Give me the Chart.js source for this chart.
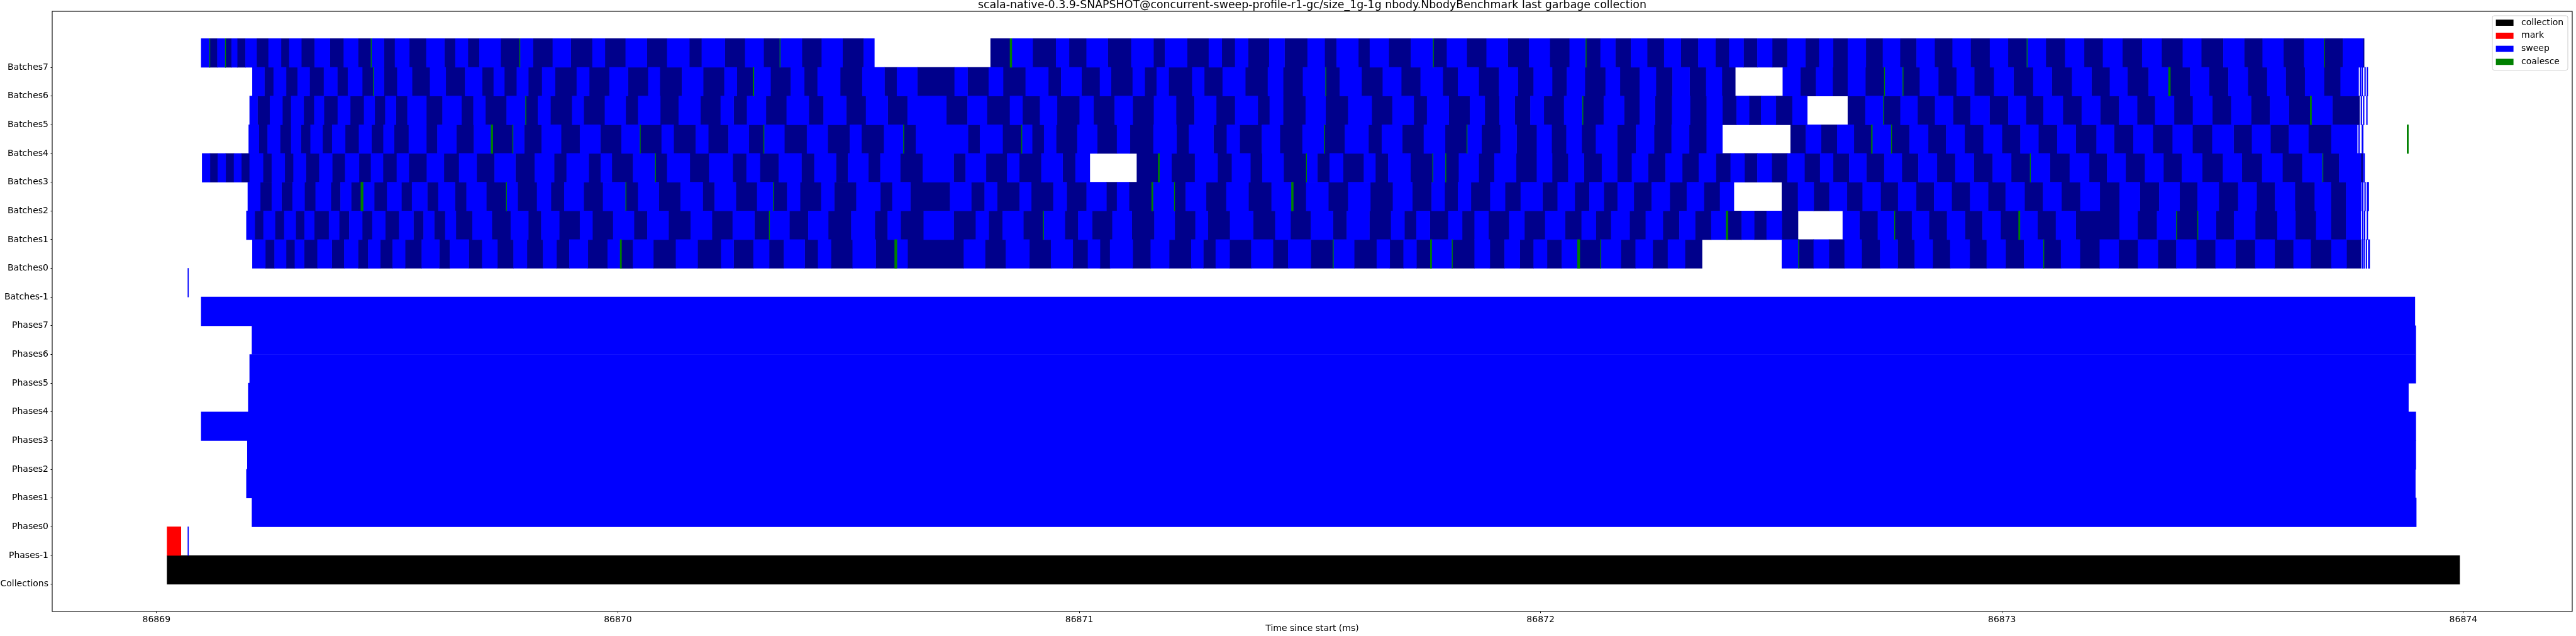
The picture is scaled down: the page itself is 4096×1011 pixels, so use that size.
<!DOCTYPE html>
<html>
<head>
<meta charset="utf-8">
<script src="https://cdn.jsdelivr.net/npm/chart.js@4.4.1/dist/chart.umd.min.js"></script>
<style>
html,body{margin:0;padding:0;background:#fff;overflow:hidden}
#wrap{width:4096px;height:1011px;position:relative}
</style>
</head>
<body>
<div id="wrap"><canvas id="c" width="4096" height="1011"></canvas></div>
<script>
// ---------------- data ----------------
const titleText = "scala-native-0.3.9-SNAPSHOT@concurrent-sweep-profile-r1-gc/size_1g-1g nbody.NbodyBenchmark last garbage collection";
const xAxisTitle = "Time since start (ms)";
const rowLabels = ["Collections","Phases-1","Phases0","Phases1","Phases2","Phases3","Phases4","Phases5","Phases6","Phases7",
  "Batches-1","Batches0","Batches1","Batches2","Batches3","Batches4","Batches5","Batches6","Batches7"];
const xTickValues = [86869, 86870, 86871, 86872, 86873, 86874];
const xRange = [86868.774, 86874.236];
const yRange = [-0.95, 19.95];
const legendLabels = ["collection", "mark", "sweep", "coalesce"];

const collectionSpan = [86869.023, 86873.992];
const markSpan = [86869.023, 86869.053];
const sweepPhasesMinus1 = [86869.068, 86869.0695];
const sweepBatchesMinus1 = [86869.068, 86869.0695];
// Phases0 .. Phases7
const phaseStarts = [86869.207, 86869.195, 86869.197, 86869.097, 86869.199, 86869.202, 86869.207, 86869.097];
const phaseEnds   = [86873.898, 86873.896, 86873.897, 86873.897, 86873.881, 86873.897, 86873.897, 86873.895];

// Batch rows: runs of consecutive batch boundaries (colours alternate sweep / dark sweep)
const batches0 = [
 [86869.208,86869.236,86869.256,86869.281,86869.300,86869.320,86869.349,86869.380,86869.407,86869.437,86869.459,86869.485,86869.512,86869.539,86869.575,86869.613,86869.636,86869.677,86869.706,86869.739,86869.774,86869.803,86869.838,86869.867,86869.895,86869.935,86869.978,86870.007,86870.033,86870.077,86870.126,86870.173,86870.224,86870.251,86870.294,86870.328,86870.360,86870.405,86870.434,86870.462,86870.509,86870.559,86870.602,86870.628,86870.750,86870.796,86870.841,86870.892,86870.939,86870.986,86871.019,86871.045,86871.067,86871.116,86871.155,86871.195,86871.243,86871.269,86871.296,86871.326,86871.373,86871.420,86871.453,86871.502,86871.550,86871.596,86871.645,86871.673,86871.703,86871.731,86871.763,86871.808,86871.857,86871.890,86871.922,86871.955,86871.985,86872.014,86872.046,86872.082,86872.130,86872.174,86872.206,86872.243,86872.276,86872.313,86872.350],
 [86872.523,86872.559,86872.592,86872.625,86872.659,86872.696,86872.736,86872.774,86872.811,86872.850,86872.888,86872.930,86872.967,86873.008,86873.048,86873.090,86873.128,86873.169,86873.212,86873.253,86873.295,86873.338,86873.378,86873.421,86873.463,86873.506,86873.549,86873.591,86873.632,86873.669,86873.714,86873.747,86873.778]
];
const batches1 = [
 [86869.195,86869.213,86869.232,86869.257,86869.277,86869.302,86869.321,86869.342,86869.374,86869.396,86869.418,86869.446,86869.468,86869.496,86869.526,86869.557,86869.579,86869.602,86869.626,86869.649,86869.685,86869.727,86869.768,86869.806,86869.834,86869.873,86869.918,86869.945,86869.990,86870.035,86870.064,86870.110,86870.158,86870.204,86870.249,86870.296,86870.328,86870.372,86870.413,86870.456,86870.506,86870.557,86870.585,86870.613,86870.663,86870.728,86870.776,86870.804,86870.834,86870.879,86870.922,86870.969,86870.998,86871.028,86871.072,86871.114,86871.163,86871.207,86871.252,86871.279,86871.327,86871.377,86871.425,86871.458,86871.502,86871.550,86871.580,86871.629,86871.676,86871.705,86871.731,86871.760,86871.800,86871.830,86871.857,86871.887,86871.932,86871.965,86872.010,86872.053,86872.089,86872.120,86872.153,86872.193,86872.228,86872.265,86872.301,86872.335,86872.370,86872.404,86872.436,86872.463,86872.490,86872.523,86872.558],
 [86872.655,86872.691,86872.731,86872.767,86872.805,86872.842,86872.881,86872.920,86872.958,86872.997,86873.037,86873.077,86873.117,86873.160,86873.255,86873.294,86873.336,86873.378,86873.424,86873.464,86873.503,86873.549,86873.597,86873.636,86873.681,86873.713,86873.746,86873.778]
];
const batches2 = [
 [86869.198,86869.225,86869.250,86869.271,86869.295,86869.321,86869.345,86869.378,86869.399,86869.422,86869.446,86869.472,86869.500,86869.531,86869.554,86869.587,86869.611,86869.647,86869.672,86869.715,86869.758,86869.783,86869.825,86869.855,86869.884,86869.926,86869.968,86870.017,86870.044,86870.089,86870.136,86870.184,86870.210,86870.256,86870.302,86870.337,86870.367,86870.395,86870.441,86870.469,86870.517,86870.569,86870.595,86870.634,86870.720,86870.766,86870.795,86870.822,86870.871,86870.896,86870.944,86870.973,86871.016,86871.059,86871.082,86871.108,86871.159,86871.206,86871.231,86871.275,86871.319,86871.367,86871.417,86871.462,86871.492,86871.540,86871.583,86871.631,86871.680,86871.722,86871.764,86871.792,86871.821,86871.849,86871.891,86871.923,86871.957,86872.004,86872.037,86872.074,86872.106,86872.137,86872.167,86872.202,86872.241,86872.280,86872.317,86872.354,86872.389,86872.419],
 [86872.523,86872.558,86872.592,86872.626,86872.664,86872.698,86872.737,86872.775,86872.814,86872.853,86872.891,86872.931,86872.970,86873.008,86873.049,86873.089,86873.129,86873.170,86873.212,86873.255,86873.299,86873.341,86873.385,86873.424,86873.470,86873.512,86873.552,86873.592,86873.635,86873.678,86873.713,86873.746,86873.779]
];
const batches3 = [
 [86869.099,86869.116,86869.133,86869.150,86869.168,86869.184,86869.202,86869.231,86869.250,86869.278,86869.297,86869.324,86869.353,86869.381,86869.409,86869.439,86869.465,86869.491,86869.521,86869.547,86869.586,86869.623,86869.656,86869.694,86869.733,86869.778,86869.820,86869.862,86869.889,86869.937,86869.963,86869.987,86870.033,86870.081,86870.107,86870.156,86870.198,86870.249,86870.279,86870.308,86870.349,86870.398,86870.426,86870.473,86870.499,86870.543,86870.569,86870.612,86870.661,86870.728,86870.754,86870.798,86870.844,86870.870,86870.918,86870.964,86870.992,86871.023],
 [86871.125,86871.173,86871.200,86871.251,86871.300,86871.331,86871.371,86871.397,86871.443,86871.493,86871.516,86871.543,86871.572,86871.617,86871.642,86871.670,86871.718,86871.766,86871.794,86871.823,86871.866,86871.900,86871.947,86871.992,86872.025,86872.060,86872.094,86872.133,86872.166,86872.198,86872.233,86872.271,86872.307,86872.343,86872.380,86872.412,86872.442,86872.470,86872.501,86872.535,86872.572,86872.606,86872.634,86872.669,86872.706,86872.745,86872.783,86872.819,86872.859,86872.899,86872.939,86872.980,86873.020,86873.061,86873.104,86873.147,86873.189,86873.228,86873.268,86873.310,86873.350,86873.390,86873.434,86873.479,86873.520,86873.564,86873.608,86873.651,86873.695,86873.731,86873.778,86873.782]
];
const batches4 = [
 [86869.200,86869.222,86869.241,86869.268,86869.292,86869.313,86869.334,86869.360,86869.381,86869.409,86869.439,86869.466,86869.492,86869.515,86869.547,86869.585,86869.609,86869.650,86869.688,86869.727,86869.772,86869.797,86869.835,86869.877,86869.918,86869.962,86870.008,86870.048,86870.095,86870.121,86870.169,86870.196,86870.240,86870.284,86870.316,86870.361,86870.410,86870.455,86870.503,86870.528,86870.577,86870.619,86870.646,86870.759,86870.785,86870.834,86870.875,86870.898,86870.924,86870.950,86870.996,86871.039,86871.082,86871.110,86871.161,86871.211,86871.238,86871.291,86871.320,86871.348,86871.396,86871.435,86871.484,86871.531,86871.576,86871.627,86871.656,86871.700,86871.747,86871.793,86871.840,86871.872,86871.913,86871.948,86871.992,86872.024,86872.056,86872.089,86872.120,86872.166,86872.207,86872.246,86872.284,86872.322,86872.360,86872.394],
 [86872.542,86872.575,86872.608,86872.643,86872.679,86872.719,86872.760,86872.800,86872.840,86872.879,86872.919,86872.960,86873.000,86873.040,86873.079,86873.120,86873.160,86873.205,86873.243,86873.285,86873.327,86873.370,86873.413,86873.456,86873.502,86873.542,86873.582,86873.622,86873.664,86873.714,86873.770]
];
const batches5 = [
 [86869.202,86869.219,86869.246,86869.273,86869.292,86869.319,86869.342,86869.363,86869.393,86869.420,86869.450,86869.473,86869.496,86869.519,86869.544,86869.585,86869.620,86869.661,86869.687,86869.713,86869.759,86869.800,86869.827,86869.854,86869.901,86869.926,86869.972,86870.017,86870.044,86870.092,86870.132,86870.179,86870.223,86870.251,86870.280,86870.321,86870.366,86870.414,86870.446,86870.495,86870.538,86870.585,86870.628,86870.712,86870.758,86870.800,86870.850,86870.877,86870.915,86870.952,86871.001,86871.031,86871.077,86871.116,86871.162,86871.210,86871.250,86871.297,86871.338,86871.387,86871.413,86871.442,86871.491,86871.534,86871.583,86871.634,86871.679,86871.725,86871.754,86871.801,86871.847,86871.879,86871.911,86871.944,86871.978,86872.007,86872.051,86872.091,86872.137,86872.181,86872.215,86872.248,86872.285,86872.324,86872.360,86872.394,86872.425,86872.452,86872.478,86872.510,86872.546,86872.578],
 [86872.666,86872.704,86872.743,86872.780,86872.817,86872.855,86872.894,86872.932,86872.973,86873.014,86873.052,86873.090,86873.132,86873.173,86873.213,86873.254,86873.293,86873.332,86873.373,86873.414,86873.456,86873.497,86873.540,86873.581,86873.622,86873.670,86873.716,86873.775]
];
const batches6 = [
 [86869.208,86869.234,86869.254,86869.281,86869.306,86869.332,86869.363,86869.392,86869.415,86869.446,86869.470,86869.493,86869.522,86869.554,86869.593,86869.627,86869.669,86869.706,86869.731,86869.754,86869.781,86869.806,86869.836,86869.864,86869.911,86869.938,86869.982,86870.022,86870.066,86870.091,86870.139,86870.185,86870.231,86870.258,86870.294,86870.331,86870.375,86870.404,86870.433,86870.482,86870.530,86870.578,86870.605,86870.649,86870.730,86870.758,86870.804,86870.835,86870.884,86870.933,86870.961,86871.005,86871.045,86871.069,86871.116,86871.142,86871.168,86871.194,86871.245,86871.271,86871.311,86871.360,86871.409,86871.442,86871.485,86871.534,86871.565,86871.612,86871.658,86871.698,86871.740,86871.788,86871.821,86871.866,86871.910,86871.951,86871.985,86872.025,86872.057,86872.096,86872.141,86872.172,86872.215,86872.250,86872.286,86872.323,86872.359,86872.393,86872.422],
 [86872.525,86872.563,86872.597,86872.633,86872.666,86872.704,86872.745,86872.785,86872.822,86872.862,86872.902,86872.940,86872.983,86873.025,86873.068,86873.108,86873.152,86873.194,86873.234,86873.272,86873.318,86873.363,86873.408,86873.449,86873.491,86873.533,86873.575,86873.615,86873.657,86873.698,86873.734,86873.773]
];
const batches7 = [
 [86869.097,86869.115,86869.132,86869.149,86869.163,86869.175,86869.193,86869.217,86869.243,86869.270,86869.288,86869.314,86869.343,86869.376,86869.406,86869.437,86869.465,86869.493,86869.517,86869.548,86869.585,86869.624,86869.648,86869.675,86869.700,86869.746,86869.787,86869.816,86869.859,86869.898,86869.945,86869.972,86870.017,86870.063,86870.107,86870.155,86870.182,86870.232,86870.276,86870.316,86870.351,86870.399,86870.442,86870.487,86870.533,86870.556],
 [86870.808,86870.854,86870.899,86870.950,86870.978,86871.016,86871.062,86871.113,86871.161,86871.186,86871.234,86871.281,86871.309,86871.338,86871.366,86871.412,86871.445,86871.495,86871.532,86871.558,86871.605,86871.630,86871.671,86871.719,86871.767,86871.797,86871.840,86871.883,86871.929,86871.975,86872.020,86872.063,86872.098,86872.130,86872.162,86872.196,86872.231,86872.268,86872.304,86872.342,86872.379,86872.409,86872.440,86872.470,86872.502,86872.535,86872.574,86872.604,86872.634,86872.666,86872.705,86872.742,86872.779,86872.815,86872.854,86872.893,86872.932,86872.974,86873.013,86873.054,86873.095,86873.137,86873.178,86873.219,86873.261,86873.304,86873.346,86873.392,86873.432,86873.480,86873.525,86873.565,86873.610,86873.655,86873.698,86873.739,86873.783,86873.785]
];
// small trailing batches at the end of each row (Batches0 .. Batches7)
const batchTails0 = [[86873.780,86873.782],[86873.784,86873.786],[86873.789,86873.791],[86873.794,86873.797]];
const batchTails1 = [[86873.781,86873.783],[86873.785,86873.787],[86873.791,86873.793]];
const batchTails2 = [[86873.781,86873.783],[86873.786,86873.788],[86873.791,86873.795]];
const batchTails3 = [[86873.783,86873.786]];
const batchTails4 = [[86873.773,86873.775],[86873.780,86873.783]];
const batchTails5 = [[86873.778,86873.780],[86873.783,86873.785],[86873.790,86873.792]];
const batchTails6 = [[86873.776,86873.778],[86873.780,86873.782],[86873.786,86873.788],[86873.791,86873.793]];
const batchTails7 = [];

// coalesce marks: [row, start, end]
const coalesce = [
 ["Batches7",86870.850,86870.854],["Batches7",86869.115,86869.116],["Batches7",86869.149,86869.150],["Batches7",86869.465,86869.466],
 ["Batches7",86869.787,86869.788],["Batches7",86870.351,86870.352],["Batches7",86871.767,86871.768],["Batches7",86872.098,86872.099],
 ["Batches7",86873.054,86873.055],["Batches7",86873.698,86873.699],
 ["Batches6",86870.293,86870.295],["Batches6",86873.361,86873.365],["Batches6",86869.470,86869.471],["Batches6",86871.534,86871.535],
 ["Batches6",86872.745,86872.746],["Batches6",86872.785,86872.786],
 ["Batches5",86873.668,86873.671],["Batches5",86869.800,86869.801],["Batches5",86872.091,86872.092],["Batches5",86872.743,86872.744],
 ["Batches4",86869.725,86869.729],["Batches4",86872.717,86872.719],["Batches4",86873.878,86873.881],["Batches4",86869.772,86869.773],
 ["Batches4",86870.048,86870.049],["Batches4",86870.316,86870.317],["Batches4",86870.619,86870.620],["Batches4",86870.875,86870.876],
 ["Batches4",86871.531,86871.532],["Batches4",86871.840,86871.841],["Batches4",86872.760,86872.761],
 ["Batches3",86871.171,86871.174],["Batches3",86870.081,86870.082],["Batches3",86871.492,86871.493],["Batches3",86871.766,86871.767],
 ["Batches3",86871.794,86871.795],["Batches3",86873.061,86873.062],["Batches3",86873.695,86873.696],
 ["Batches2",86869.443,86869.448],["Batches2",86871.157,86871.160],["Batches2",86871.460,86871.464],["Batches2",86869.758,86869.759],
 ["Batches2",86870.017,86870.018],["Batches2",86870.337,86870.338],["Batches2",86871.206,86871.207],
 ["Batches1",86872.402,86872.406],["Batches1",86873.036,86873.039],["Batches1",86870.328,86870.329],["Batches1",86870.922,86870.923],
 ["Batches1",86872.767,86872.768],["Batches1",86873.378,86873.379],["Batches1",86873.424,86873.425],
 ["Batches0",86870.005,86870.008],["Batches0",86870.600,86870.605],["Batches0",86871.761,86871.764],["Batches0",86872.080,86872.085],
 ["Batches0",86871.550,86871.551],["Batches0",86871.808,86871.809],["Batches0",86872.130,86872.131],["Batches0",86872.559,86872.560],
 ["Batches0",86873.090,86873.091]
];

// ---------------- build bars ----------------
const FONT = "'DejaVu Sans', 'Noto Sans', sans-serif";
const rowY = name => rowLabels.indexOf(name) + 0.5;
const blackBars = [], redBars = [], blueBars = [], navyBars = [], greenBars = [];

blackBars.push({x: collectionSpan, y: rowY("Collections")});
redBars.push({x: markSpan, y: rowY("Phases-1")});
blueBars.push({x: sweepPhasesMinus1, y: rowY("Phases-1")});
blueBars.push({x: sweepBatchesMinus1, y: rowY("Batches-1")});
phaseStarts.forEach((s, i) => blueBars.push({x: [s, phaseEnds[i]], y: rowY("Phases" + i)}));

const batchRows = [batches0, batches1, batches2, batches3, batches4, batches5, batches6, batches7];
const tailRows = [batchTails0, batchTails1, batchTails2, batchTails3, batchTails4, batchTails5, batchTails6, batchTails7];
batchRows.forEach((runs, r) => {
  const y = rowY("Batches" + r);
  let k = 0;
  runs.forEach(run => {
    for (let i = 0; i < run.length - 1; i++) {
      (k % 2 === 0 ? blueBars : navyBars).push({x: [run[i], run[i + 1]], y});
      k++;
    }
  });
  tailRows[r].forEach(t => blueBars.push({x: t, y}));
});
coalesce.forEach(c => greenBars.push({x: [c[1], c[2]], y: rowY(c[0])}));

const barCommon = {grouped: false, categoryPercentage: 1, barPercentage: 1, borderWidth: 0, borderSkipped: false};

// ---------------- plugins ----------------
const framePlugin = {
  id: "frame",
  afterDatasetsDraw(chart) {
    const {ctx, chartArea: a} = chart;
    ctx.save();
    ctx.strokeStyle = "#000";
    ctx.lineWidth = 1.1;
    ctx.strokeRect(a.left, a.top, a.right - a.left, a.bottom - a.top);
    ctx.restore();
  }
};
const titlePlugin = {
  id: "mplTitle",
  afterDraw(chart) {
    const {ctx, chartArea: a} = chart;
    ctx.save();
    ctx.fillStyle = "#000";
    ctx.font = "17.4px " + FONT;
    ctx.textAlign = "center";
    ctx.textBaseline = "alphabetic";
    ctx.fillText(titleText, (a.left + a.right) / 2, a.top - 5);
    ctx.restore();
  }
};
const legendColors = ["#000000", "#ff0000", "#0000ff", "#008000"];
const legendPlugin = {
  id: "mplLegend",
  afterDraw(chart) {
    const {ctx, chartArea: a} = chart;
    const w = 120, h = 86.5;
    const x0 = a.right - 7 - w, y0 = a.top + 7;
    ctx.save();
    ctx.beginPath();
    if (ctx.roundRect) ctx.roundRect(x0, y0, w, h, 3); else ctx.rect(x0, y0, w, h);
    ctx.fillStyle = "rgba(255,255,255,0.8)";
    ctx.fill();
    ctx.strokeStyle = "#cccccc";
    ctx.lineWidth = 1;
    ctx.stroke();
    ctx.font = "14px " + FONT;
    ctx.textBaseline = "middle";
    ctx.textAlign = "left";
    legendLabels.forEach((lab, i) => {
      const cy = y0 + 11.1 + i * 20.75;
      ctx.fillStyle = legendColors[i];
      ctx.fillRect(x0 + 5.6, cy - 4.9, 28, 9.8);
      ctx.fillStyle = "#000";
      ctx.fillText(lab, x0 + 46, cy);
    });
    ctx.restore();
  }
};

// ---------------- chart ----------------
new Chart(document.getElementById("c"), {
  type: "bar",
  data: {
    datasets: [
      Object.assign({label: "coalesce", data: greenBars, backgroundColor: "#008000"}, barCommon),
      Object.assign({label: "mark", data: redBars, backgroundColor: "#ff0000"}, barCommon),
      Object.assign({label: "sweep", data: blueBars, backgroundColor: "#0000ff"}, barCommon),
      Object.assign({label: "sweep (alternate batch)", data: navyBars, backgroundColor: "#00008b"}, barCommon),
      Object.assign({label: "collection", data: blackBars, backgroundColor: "#000000"}, barCommon)
    ]
  },
  options: {
    indexAxis: "y",
    animation: false,
    responsive: false,
    devicePixelRatio: 1,
    layout: {padding: {top: 18, right: 6, bottom: 0, left: 0}},
    plugins: {legend: {display: false}, title: {display: false}, tooltip: {enabled: false}},
    scales: {
      x: {
        type: "linear", position: "bottom", offset: false,
        min: xRange[0], max: xRange[1],
        afterBuildTicks: s => { s.ticks = xTickValues.map(v => ({value: v})); },
        afterFit: s => { s.height = 39; },
        ticks: {callback: v => String(v), autoSkip: false, maxRotation: 0, color: "#000", padding: 2, font: {family: FONT, size: 14}},
        grid: {display: true, offset: false, drawOnChartArea: false, drawTicks: true, tickLength: 2.5, color: "#000", lineWidth: 1},
        border: {display: false},
        title: {display: true, text: xAxisTitle, color: "#000", font: {family: FONT, size: 14}, padding: {top: 0, bottom: 3.6}}
      },
      y: {
        type: "linear", position: "left", offset: false,
        min: yRange[0], max: yRange[1],
        afterBuildTicks: s => { s.ticks = rowLabels.map((_, i) => ({value: i})); },
        afterFit: s => { s.width = 83; },
        ticks: {callback: v => rowLabels[v], autoSkip: false, color: "#000", padding: 3.5, font: {family: FONT, size: 14}},
        grid: {display: true, offset: false, drawOnChartArea: false, drawTicks: true, tickLength: 2.5, color: "#000", lineWidth: 1},
        border: {display: false}
      }
    }
  },
  plugins: [framePlugin, titlePlugin, legendPlugin]
});
</script>
</body>
</html>
